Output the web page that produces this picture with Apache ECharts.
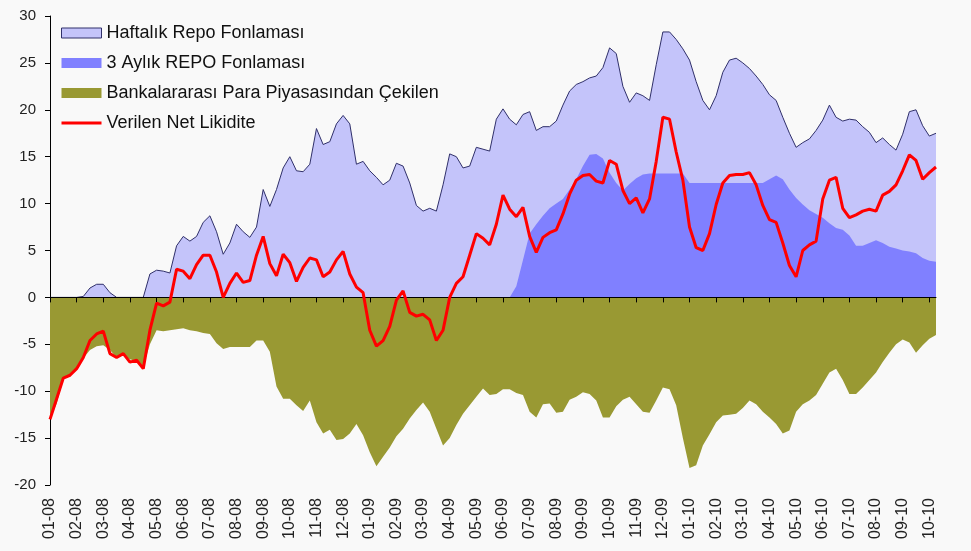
<!DOCTYPE html>
<html>
<head>
<meta charset="utf-8">
<script src="https://cdn.jsdelivr.net/npm/echarts@6/dist/echarts.min.js"></script>
<style>
html, body { margin: 0; padding: 0; background: #f9f9f9; }
#chart { width: 971px; height: 551px; }
</style>
</head>
<body>
<div id="chart"></div>
<script>
// aylar (ay başı etiketleri), her ay 4 haftalık nokta
var months = ['01-08', '02-08', '03-08', '04-08', '05-08', '06-08', '07-08', '08-08', '09-08', '10-08', '11-08', '12-08',
    '01-09', '02-09', '03-09', '04-09', '05-09', '06-09', '07-09', '08-09', '09-09', '10-09', '11-09', '12-09',
    '01-10', '02-10', '03-10', '04-10', '05-10', '06-10', '07-10', '08-10', '09-10', '10-10'];
var weeksPerMonth = 4;
var lastMonthWeeks = 2;

var haftalik = [
    0, 0, 0, 0,  0, 0.1, 1.0, 1.4,  1.4, 0.5, 0, 0,  0, 0, 0, 2.5,
    2.9, 2.8, 2.6, 5.5,  6.5, 6.0, 6.5, 8.0,  8.7, 7.0, 4.6, 5.8,  7.8, 7.0, 6.4, 7.5,
    11.5, 9.7, 11.5, 13.8,  15.0, 13.5, 13.4, 14.2,  18.0, 16.3, 16.6, 18.5,  19.4, 18.5, 14.2, 14.5,
    13.5, 12.8, 12.0, 12.5,  14.3, 14.0, 12.2, 9.8,  9.2, 9.5, 9.2, 12.0,  15.3, 15.0, 13.8, 14.0,
    16.0, 15.8, 15.6, 19.0,  20.1, 19.0, 18.4, 19.5,  19.8, 17.8, 18.2, 18.2,  18.8, 20.5, 22.0, 22.7,
    23.0, 23.4, 23.6, 24.5,  26.6, 26.0, 22.5, 20.8,  21.8, 21.5, 21.0, 24.8,  28.3, 28.3, 27.5, 26.5,
    25.3, 23.0, 21.0, 20.0,  21.5, 24.0, 25.3, 25.5,  25.0, 24.4, 23.6, 22.7,  21.6, 21.0, 19.2, 17.5,
    16.0, 16.5, 16.9, 17.8,  18.9, 20.5, 19.2, 18.8,  19.0, 18.9, 18.2, 17.6,  16.5, 17.0, 16.3, 15.7,
    17.4, 19.8, 20.0, 18.3,  17.2, 17.5
];

var aylik3 = [
    0, 0, 0, 0,  0, 0, 0, 0,  0, 0, 0, 0,  0, 0, 0, 0,
    0, 0, 0, 0,  0, 0, 0, 0,  0, 0, 0, 0,  0, 0, 0, 0,
    0, 0, 0, 0,  0, 0, 0, 0,  0, 0, 0, 0,  0, 0, 0, 0,
    0, 0, 0, 0,  0, 0, 0, 0,  0, 0, 0, 0,  0, 0, 0, 0,
    0, 0, 0, 0,  0, 0, 1.2, 4.0,  6.8, 7.8, 8.7, 9.5,  10.0, 10.5, 11.5, 12.6,
    14.0, 15.2, 15.3, 14.8,  13.3, 12.2, 11.4, 12.1,  12.7, 13.1, 13.2, 13.2,  13.2, 13.2, 13.2, 13.2,
    12.2, 12.2, 12.2, 12.2,  12.2, 12.2, 12.2, 12.2,  12.2, 12.2, 12.2, 12.2,  12.6, 13.0, 12.6, 11.5,
    10.6, 9.9, 9.3, 8.9,  8.5, 7.9, 7.4, 7.2,  6.6, 5.5, 5.5, 5.8,  6.1, 5.8, 5.4, 5.2,
    5.0, 4.9, 4.7, 4.2,  3.9, 3.8
];

var bankalar = [
    -13.0, -11.3, -8.7, -8.2,  -7.7, -6.5, -5.6, -5.2,  -5.1, -5.6, -6.4, -6.2,  -6.6, -6.8, -7.4, -5.0,
    -3.5, -3.6, -3.5, -3.4,  -3.3, -3.5, -3.6, -3.8,  -3.9, -4.9, -5.5, -5.3,  -5.3, -5.3, -5.3, -4.6,
    -4.6, -5.8, -9.5, -10.8,  -10.8, -11.5, -12.1, -11.0,  -13.3, -14.5, -14.1, -15.2,  -15.1, -14.5, -13.5, -14.7,
    -16.5, -18.0, -17.0, -16.0,  -14.8, -14.0, -12.9, -12.0,  -11.2, -12.2, -14.0, -15.8,  -15.0, -13.6, -12.4, -11.5,
    -10.6, -9.7, -10.4, -10.3,  -9.8, -9.8, -10.2, -10.4,  -12.2, -12.8, -11.4, -11.3,  -12.3, -12.2, -10.9, -10.6,
    -10.1, -10.3, -11.0, -12.8,  -12.8, -11.6, -10.9, -10.6,  -11.4, -12.2, -12.3, -11.0,  -9.6, -9.8, -11.5, -15.0,
    -18.2, -17.9, -15.8, -14.6,  -13.3, -12.6, -12.5, -12.4,  -11.8, -11.0, -11.4, -12.2,  -12.8, -13.5, -14.5, -14.2,
    -12.2, -11.4, -11.0, -10.4,  -9.2, -8.0, -7.6, -8.8,  -10.3, -10.3, -9.6, -8.8,  -8.0, -6.9, -5.9, -5.0,
    -4.5, -4.8, -5.9, -5.1,  -4.4, -4.0
];

var netLikidite = [
    -13.0, -10.8, -8.6, -8.3,  -7.6, -6.4, -4.6, -3.9,  -3.6, -6.0, -6.4, -6.0,  -6.9, -6.7, -7.6, -3.5,
    -0.6, -0.9, -0.5, 3.0,  2.8, 2.0, 3.5, 4.5,  4.5, 2.7, 0.0, 1.5,  2.6, 1.6, 1.8, 4.5,
    6.5, 3.6, 2.3, 4.6,  3.7, 1.7, 3.2, 4.2,  4.0, 2.2, 2.7, 4.0,  4.9, 2.5, 1.1, 0.5,
    -3.5, -5.2, -4.6, -3.1,  -0.3, 0.7, -1.6, -2.0,  -1.8, -2.4, -4.6, -3.5,  0.0, 1.5, 2.2, 4.5,
    6.8, 6.3, 5.6, 7.8,  10.9, 9.4, 8.6, 9.6,  6.5, 4.8, 6.4, 6.9,  7.2, 8.9, 11.0, 12.5,
    13.0, 13.1, 12.4, 12.2,  14.6, 14.2, 11.4, 10.0,  10.6, 9.0, 10.5, 14.5,  19.2, 19.0, 15.5, 12.5,
    7.5, 5.3, 5.0, 6.8,  9.9, 12.2, 13.0, 13.1,  13.1, 13.3, 12.0, 9.8,  8.3, 8.0, 5.8, 3.4,
    2.2, 5.0, 5.6, 6.0,  10.5, 12.5, 12.8, 9.5,  8.5, 8.8, 9.2, 9.4,  9.2, 10.9, 11.3, 12.0,
    13.5, 15.2, 14.6, 12.6,  13.3, 13.9
];

// haftalık kategori listesi
var weeks = [];
months.forEach(function (m, i) {
    var n = (i == months.length - 1) ? lastMonthWeeks : weeksPerMonth;
    for (var k = 0; k < n; k++) {
        weeks.push(m + '#' + k);
    }
});

var font = 'Liberation Sans, Arial, sans-serif';
var chart = echarts.init(document.getElementById('chart'));

var option = {
    backgroundColor: '#f9f9f9',
    animation: false,
    textStyle: { fontFamily: font },
    grid: { left: 50, right: 35, top: 16, bottom: 66 },
    legend: {
        orient: 'vertical',
        left: 60,
        top: 24,
        padding: 0,
        itemWidth: 40,
        itemHeight: 10,
        itemGap: 12,
        textStyle: { fontSize: 18, color: '#111', fontFamily: font },
        data: [
            { name: 'Haftalık Repo Fonlaması', icon: 'rect', itemStyle: { color: '#c4c4fa', borderColor: '#30306a', borderWidth: 1 } },
            { name: '3 Aylık REPO Fonlaması', icon: 'rect', itemStyle: { color: '#8080ff' } },
            { name: 'Bankalararası Para Piyasasından Çekilen', icon: 'rect', itemStyle: { color: '#999933' } },
            // çizgi ikonu, nokta yok
            {
                name: 'Verilen Net Likidite',
                itemStyle: { color: 'rgba(0,0,0,0)', borderWidth: 0, opacity: 0 },
                lineStyle: { color: '#ff0000', width: 3 }
            }
        ]
    },
    xAxis: [
        {
            // alttaki etiketler
            type: 'category',
            data: weeks,
            boundaryGap: false,
            position: 'bottom',
            axisLine: { show: false, onZero: false },
            axisTick: { show: false },
            splitLine: { show: false },
            axisLabel: {
                interval: weeksPerMonth - 1,
                rotate: 90,
                margin: 13,
                fontSize: 16,
                color: '#222',
                formatter: function (v) { return v.split('#')[0]; }
            }
        },
        {
            // sıfır çizgisi ve ay işaretleri
            type: 'category',
            data: weeks,
            boundaryGap: false,
            position: 'bottom',
            z: 10,
            axisLine: { show: true, onZero: true, lineStyle: { color: '#000', width: 1 } },
            axisTick: { show: true, interval: weeksPerMonth - 1, length: 5, lineStyle: { color: '#000' } },
            axisLabel: { show: false },
            splitLine: { show: false }
        }
    ],
    yAxis: {
        type: 'value',
        min: -20,
        max: 30,
        interval: 5,
        axisLine: { show: true, lineStyle: { color: '#000', width: 1 } },
        axisTick: { show: true, length: 5, lineStyle: { color: '#000' } },
        axisLabel: { fontSize: 15, color: '#222', margin: 14 },
        splitLine: { show: false }
    },
    series: [
        {
            name: 'Haftalık Repo Fonlaması',
            type: 'line',
            data: haftalik,
            symbol: 'none',
            z: 2,
            itemStyle: { color: '#c4c4fa' },
            lineStyle: { color: '#30306a', width: 1 },
            areaStyle: { color: '#c4c4fa', opacity: 1 }
        },
        {
            name: '3 Aylık REPO Fonlaması',
            type: 'line',
            data: aylik3,
            symbol: 'none',
            z: 3,
            itemStyle: { color: '#8080ff' },
            lineStyle: { width: 0, opacity: 0 },
            areaStyle: { color: '#8080ff', opacity: 1 }
        },
        {
            name: 'Bankalararası Para Piyasasından Çekilen',
            type: 'line',
            data: bankalar,
            symbol: 'none',
            z: 3,
            itemStyle: { color: '#999933' },
            lineStyle: { width: 0, opacity: 0 },
            areaStyle: { color: '#999933', opacity: 1 }
        },
        {
            name: 'Verilen Net Likidite',
            type: 'line',
            data: netLikidite,
            symbol: 'none',
            z: 12,
            itemStyle: { color: '#ff0000' },
            lineStyle: { color: '#ff0000', width: 3 }
        }
    ]
};

chart.setOption(option);
</script>
</body>
</html>
